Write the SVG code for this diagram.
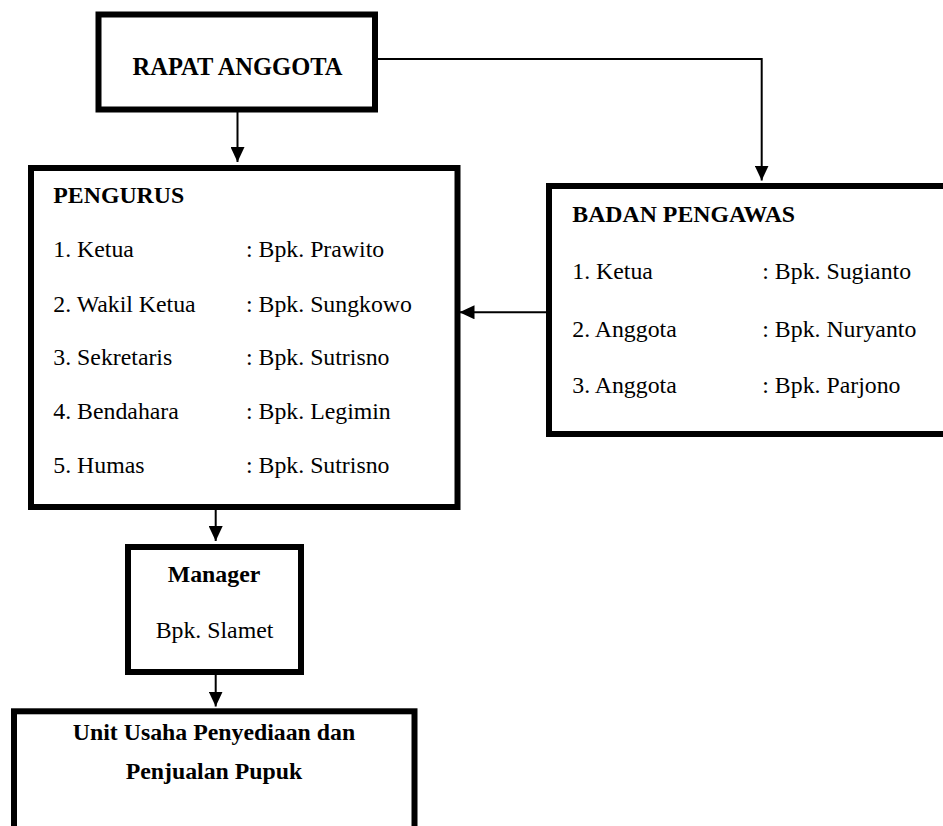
<svg xmlns="http://www.w3.org/2000/svg" width="943" height="826" viewBox="0 0 943 826">
<defs>
<style>
.box{fill:#fff;stroke:#000;stroke-width:6}
.t{font-family:"Liberation Serif","Times New Roman",serif;font-size:23.8px;fill:#000}
.b{font-weight:bold}
.c{text-anchor:middle}
.ln{fill:none;stroke:#000;stroke-width:2}
</style>
<marker id="ah" markerUnits="userSpaceOnUse" markerWidth="15" markerHeight="14" refX="15" refY="7" orient="auto">
<path d="M0,0 L15,7 L0,14 z" fill="#000"/>
</marker>
</defs>
<rect width="943" height="826" fill="#fff"/>
<g id="connectors">
<path class="ln" d="M237.5,112 V162" marker-end="url(#ah)"/>
<path class="ln" d="M377,59 H761.7 V180.5" marker-end="url(#ah)"/>
<path class="ln" d="M546,312.3 H459.5" marker-end="url(#ah)"/>
<path class="ln" d="M215.7,510 V541" marker-end="url(#ah)"/>
<path class="ln" d="M215.7,675 V706.5" marker-end="url(#ah)"/>
</g>
<g id="rapat-anggota">
<rect class="box" x="98.5" y="14.5" width="276.5" height="95"/>
<text class="t b c" x="237.5" y="75" style="font-size:24.5px">RAPAT ANGGOTA</text>
</g>
<g id="pengurus">
<rect class="box" x="31" y="168" width="426.5" height="339"/>
<text class="t b" x="53.3" y="203.3">PENGURUS</text>
<text class="t" x="53.3" y="257.3">1. Ketua</text>
<text class="t" x="246" y="257.3">: Bpk. Prawito</text>
<text class="t" x="53.3" y="311.5">2. Wakil Ketua</text>
<text class="t" x="246" y="311.5">: Bpk. Sungkowo</text>
<text class="t" x="53.3" y="365.3">3. Sekretaris</text>
<text class="t" x="246" y="365.3">: Bpk. Sutrisno</text>
<text class="t" x="53.3" y="419.3">4. Bendahara</text>
<text class="t" x="246" y="419.3">: Bpk. Legimin</text>
<text class="t" x="53.3" y="473.3">5. Humas</text>
<text class="t" x="246" y="473.3">: Bpk. Sutrisno</text>
</g>
<g id="badan-pengawas">
<rect class="box" x="549" y="186" width="420" height="248"/>
<text class="t b" x="572.3" y="221.7">BADAN PENGAWAS</text>
<text class="t" x="572.3" y="279">1. Ketua</text>
<text class="t" x="762.3" y="279">: Bpk. Sugianto</text>
<text class="t" x="572.3" y="336.7">2. Anggota</text>
<text class="t" x="762.3" y="336.7">: Bpk. Nuryanto</text>
<text class="t" x="572.3" y="393.3">3. Anggota</text>
<text class="t" x="762.3" y="393.3">: Bpk. Parjono</text>
</g>
<g id="manager">
<rect class="box" x="128" y="547" width="173" height="125"/>
<text class="t b c" x="214" y="581.7">Manager</text>
<text class="t c" x="214.5" y="638.3">Bpk. Slamet</text>
</g>
<g id="unit-usaha">
<rect class="box" x="14" y="711.3" width="400.5" height="140"/>
<text class="t b c" x="214" y="740">Unit Usaha Penyediaan dan</text>
<text class="t b c" x="214" y="779">Penjualan Pupuk</text>
</g>
</svg>
